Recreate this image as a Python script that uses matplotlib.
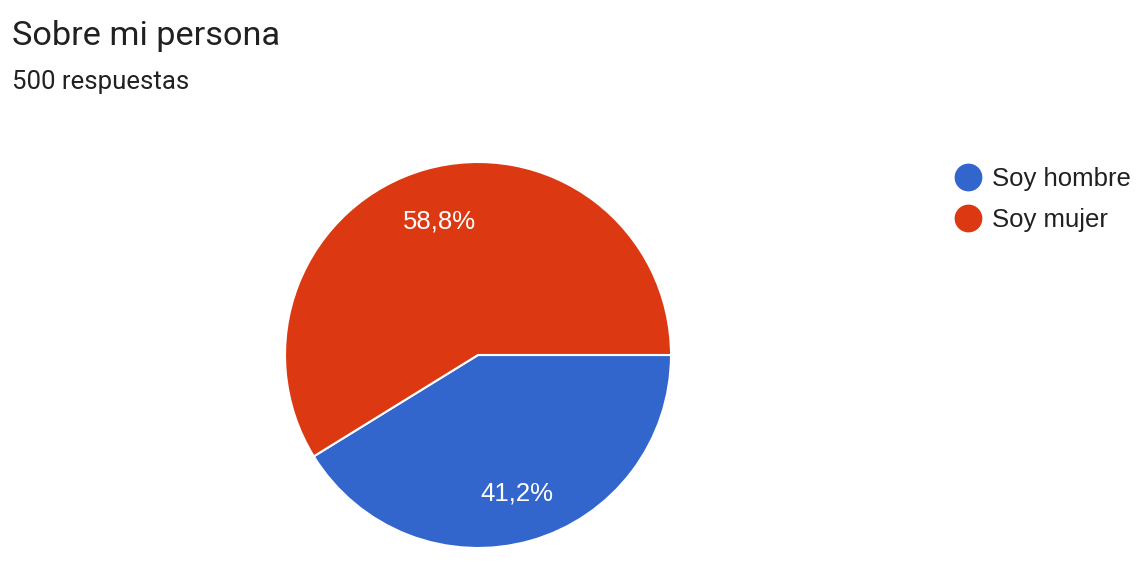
import matplotlib
matplotlib.use("Agg")
import matplotlib.pyplot as plt
from matplotlib.lines import Line2D

# data
categories = ["Soy hombre", "Soy mujer"]
shares = [41.2, 58.8]
colors = ["#3366CC", "#DC3912"]
title = "Sobre mi persona"
subtitle = "500 respuestas"

W, H = 1147, 582
fig = plt.figure(figsize=(W / 100, H / 100), dpi=100)
fig.patch.set_facecolor("white")

# pie axes placed in pixel terms: centre (478, 355), radius 193
cx, cy, r = 478, 355, 193
ax = fig.add_axes([(cx - r) / W, (H - cy - r) / H, 2 * r / W, 2 * r / H])
wedges, texts = ax.pie(
    shares, colors=colors, startangle=0, counterclock=False,
    labels=[f"{v:.1f}%".replace(".", ",") for v in shares],
    labeldistance=0.73,
    wedgeprops=dict(edgecolor="white", linewidth=1.5),
    textprops=dict(color="white", fontsize=18.5, family=["Liberation Sans", "DejaVu Sans"]),
)
for t in texts:
    t.set_ha("center")
    t.set_va("center_baseline")
ax.set_xlim(-1, 1)
ax.set_ylim(-1, 1)

fig.text(12 / W, 1 - 36 / H, title, fontsize=24.7, family="Roboto",
         color="#212121", va="center", ha="left")
fig.text(12 / W, 1 - 82 / H, subtitle, fontsize=18.5, family="Roboto",
         color="#212121", va="center", ha="left")

handles = [Line2D([], [], marker="o", linestyle="", markersize=19, color=c)
           for c in colors]
fig.legend(handles, categories, loc="upper left",
           bbox_to_anchor=(955 / W, 1 - 167 / H), frameon=False,
           borderpad=0, borderaxespad=0, handlelength=1.0, handletextpad=0.43,
           labelspacing=0.66,
           prop=dict(size=18.5, family=["Liberation Sans", "DejaVu Sans"]),
           labelcolor="#212121")

fig.savefig("out.png", dpi=100)
